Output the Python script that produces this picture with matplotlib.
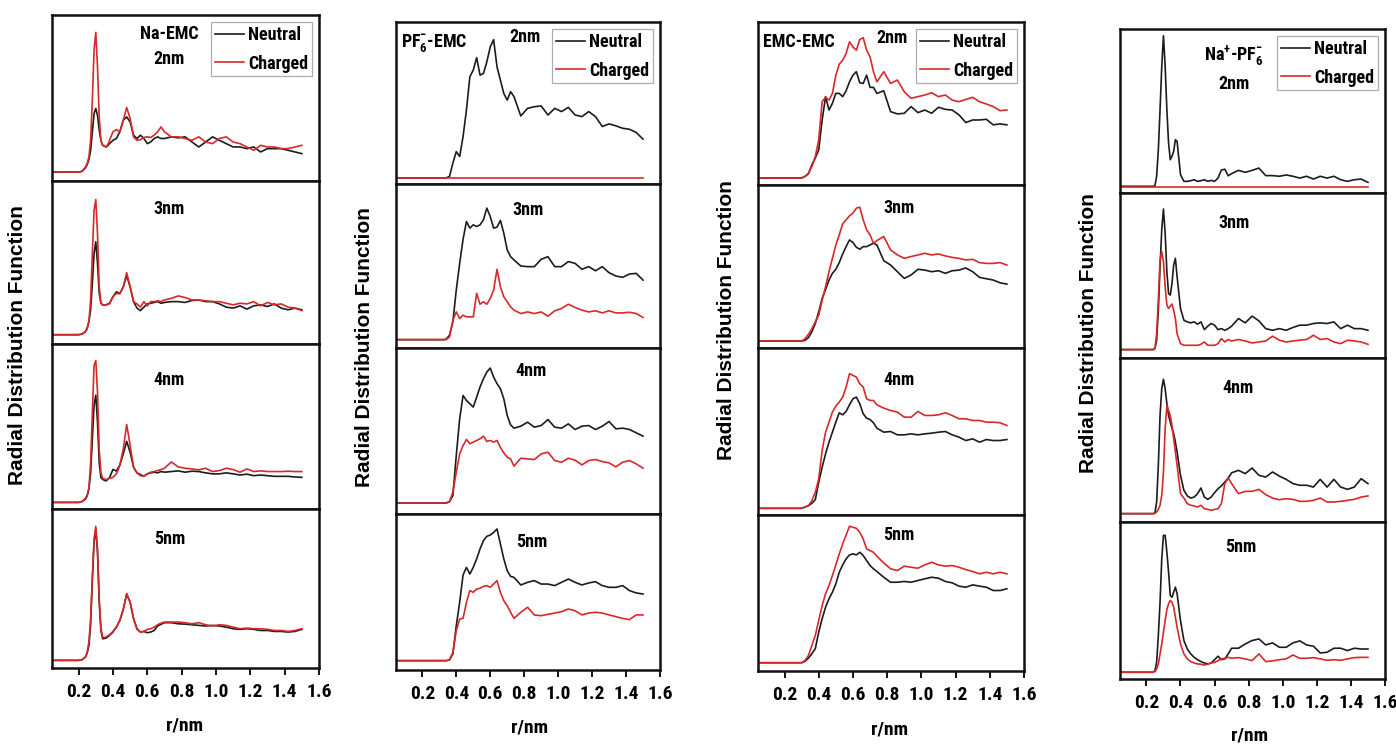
import matplotlib
matplotlib.use("Agg")
import matplotlib.pyplot as plt
from matplotlib import font_manager

# ---------------- data (arbitrary RDF units: % of panel height) -------------
r_a = [0.05, 0.20, 0.22, 0.24, 0.25, 0.26, 0.27, 0.28, 0.29,
       0.30, 0.31, 0.32, 0.33, 0.34, 0.35, 0.36, 0.37, 0.38,
       0.40, 0.42, 0.44, 0.46, 0.48, 0.50, 0.52, 0.54, 0.56, 0.58, 0.60, 0.62, 0.64, 0.66, 0.68, 0.70,
       0.74, 0.78, 0.82, 0.86, 0.90, 0.94, 0.98, 1.02, 1.06, 1.10,
       1.14, 1.18, 1.22, 1.26, 1.30, 1.34, 1.38, 1.42, 1.46, 1.50]

r_b = [0.05, 0.30, 0.32, 0.34, 0.36, 0.38,
       0.40, 0.42, 0.44, 0.46, 0.48, 0.50, 0.52, 0.54, 0.56, 0.58,
       0.60, 0.62, 0.64, 0.66, 0.68, 0.70, 0.72, 0.74,
       0.78, 0.82, 0.86, 0.90, 0.94, 0.98, 1.02, 1.06, 1.10, 1.14,
       1.18, 1.22, 1.26, 1.30, 1.34, 1.38, 1.42, 1.46, 1.50]

# Na-EMC
na_emc_2nm_neutral = [5.4, 5.4, 5.8, 8.0, 9.9, 12.9, 18.5, 29.6, 40.6,
                      43.7, 39.6, 30.6, 24.5, 21.5, 21.0, 20.5, 21.3, 22.5,
                      24.5, 25.6, 29.6, 36.6, 38.6, 35.6, 27.6, 25.6, 27.6, 25.6, 22.5, 23.5, 25.6, 26.6, 25.6, 25.6,
                      26.6, 26.0, 26.6, 23.5, 20.5, 23.5, 26.6, 24.5, 22.5, 20.5,
                      20.5, 19.5, 20.5, 17.5, 19.5, 19.5, 19.5, 18.5, 17.5, 16.5]
na_emc_2nm_charged = [5.4, 5.4, 5.8, 8.5, 10.5, 14.5, 24.5, 48.7, 78.9,
                      89.5, 68.8, 38.6, 24.5, 21.5, 21.0, 20.5, 22.0, 24.5,
                      29.6, 31.0, 29.6, 36.6, 44.3, 37.6, 26.6, 24.5, 24.9, 26.2, 26.6, 26.2, 27.6, 29.6, 32.6, 29.6,
                      26.6, 26.6, 25.6, 24.5, 26.6, 23.5, 22.5, 25.6, 26.6, 23.5,
                      22.5, 20.5, 18.5, 21.5, 20.5, 20.5, 19.5, 19.5, 20.5, 21.5]
na_emc_3nm_neutral = [5.7, 5.7, 6.1, 7.7, 9.8, 13.8, 21.0, 37.3, 55.6,
                      62.7, 49.5, 31.2, 25.1, 24.0, 24.0, 24.0, 24.5, 25.0,
                      29, 32, 31, 35, 42, 35, 26, 22, 20.5, 22.6, 24.6, 25, 25.5, 26, 25, 25.5,
                      26, 26, 25.5, 26.7, 27, 26, 26, 24.6, 22.6, 22,
                      23.4, 21.4, 23.4, 24, 23, 24.6, 22, 21, 22, 21]
na_emc_3nm_charged = [5.7, 5.7, 6.1, 7.5, 9.2, 13.8, 27, 55.6, 82,
                      88.6, 67.8, 35.2, 25, 24, 24, 24, 24.3, 24.6,
                      29, 31, 30.8, 35, 43.8, 35, 26, 24.6, 22.6, 26, 23.4, 26, 26, 26.5, 26, 27,
                      28, 29.5, 28.5, 27, 27, 26.5, 26, 26, 25, 24,
                      25, 24.6, 26, 23.4, 25.5, 24, 24.6, 22.6, 22, 20.5]
na_emc_4nm_neutral = [4, 4, 4.5, 6, 8, 12, 22, 42.5, 63,
                      69, 52.6, 28, 19, 18, 17.4, 17, 18, 19,
                      24, 23, 26.7, 33.4, 41, 34.4, 25.3, 21.9, 20.9, 19.8, 21.3, 21.9, 22.3, 21.9, 22.7, 22.3,
                      22.7, 23.1, 22.3, 22.9, 22.7, 21.9, 21.3, 21.3, 21.9, 21.3,
                      20.6, 21.1, 20.2, 20.6, 20.2, 19.8, 19.8, 19.8, 19.4, 19.2]
na_emc_4nm_charged = [4, 4, 4.5, 6.5, 8.5, 13, 28, 58.7, 87,
                      90, 71, 36, 22, 18.6, 18.2, 17.8, 18.2, 18.6,
                      19.2, 21.3, 26.3, 36.4, 51.2, 38.5, 25.3, 21.9, 20.2, 19.8, 21.3, 22.3, 22.7, 23.3, 23.9, 24.7,
                      28.5, 25.5, 24.7, 24.3, 23.7, 24.7, 22.7, 23.3, 24.7, 23.9,
                      22.3, 24.3, 22.7, 23.1, 22.7, 22.7, 22.7, 22.9, 22.7, 22.7]
na_emc_5nm_neutral = [4.8, 4.8, 5.2, 6.9, 9.5, 14.2, 27.8, 55, 79,
                      87.4, 72.8, 41.4, 23.6, 18.4, 18.6, 18.8, 19.6, 20.5,
                      22.6, 25.7, 29.9, 36.8, 46.6, 41.4, 31, 24.7, 22.6, 23, 22.2, 22.6, 23.6, 26.4, 27.5, 28.5,
                      28.5, 27.8, 27.6, 27.2, 26.8, 26.4, 26.8, 26.4, 25.7, 24.7,
                      24.3, 24.7, 24.3, 23.6, 23.6, 23, 23, 22.6, 23, 24.3]
na_emc_5nm_charged = [4.8, 4.8, 5.2, 6.9, 10, 16.3, 31, 58, 81,
                      89.1, 74.9, 43.5, 24.7, 19.5, 19.2, 19.5, 20.2, 20.9,
                      23, 25.7, 29.9, 36.8, 46.7, 41.4, 31, 24.3, 22.6, 23, 24.3, 24.7, 25.7, 27.2, 28.2, 28.9,
                      28.9, 28.9, 28.5, 27.8, 28.5, 27.2, 26.4, 27.2, 26.8, 25.7,
                      24.7, 25.1, 24.7, 24.7, 24.3, 23.6, 23.6, 23, 23.6, 24.7]

# PF6- - EMC
pf6_emc_2nm_neutral = [3.7, 3.7, 3.7, 3.7, 4.7, 12.9,
                       20, 17, 29.3, 45.7, 66.2, 70.3, 78, 67.2, 68.2, 75.4,
                       84.6, 89.1, 72.3, 64.1, 55.9, 51.8, 57, 53.9,
                       42, 46.7, 47.7, 48.2, 42.6, 46.7, 44.7, 47.3, 42.6, 41.6,
                       44.7, 41.6, 35.5, 37.1, 35.9, 34.4, 33.8, 31.8, 27.7]
pf6_emc_2nm_charged = [3.7, 3.7, 3.7, 3.7, 3.7, 3.7,
                       3.7, 3.7, 3.7, 3.7, 3.7, 3.7, 3.7, 3.7, 3.7, 3.7,
                       3.7, 3.7, 3.7, 3.7, 3.7, 3.7, 3.7, 3.7,
                       3.7, 3.7, 3.7, 3.7, 3.7, 3.7, 3.7, 3.7, 3.7, 3.7,
                       3.7, 3.7, 3.7, 3.7, 3.7, 3.7, 3.7, 3.7, 3.7]
pf6_emc_3nm_neutral = [5.1, 5.1, 5.1, 5.3, 7.8, 15.9,
                       35.3, 51.6, 66.3, 77.1, 73.1, 75.1, 74.1, 75.1, 78.2, 85.3,
                       80.2, 73.1, 73.7, 77.8, 70, 59.8, 55.7, 53.7,
                       50, 49.6, 49.6, 54.1, 55.7, 49.6, 49.6, 52.7, 51.6, 48,
                       49.6, 47.1, 49.6, 45.9, 43.9, 43.1, 45.1, 45.5, 41.4]
pf6_emc_3nm_charged = [5.1, 5.1, 5.1, 5.1, 6.7, 16.9,
                       22, 18, 20, 19, 19, 19, 33.3, 26.7, 28.2, 26.7,
                       30.2, 35.3, 48, 37.3, 31.2, 28.2, 25.1, 23.1,
                       21, 22, 21, 22, 19.4, 22.7, 24.1, 26.7, 24.7, 23.1,
                       22, 22.7, 21.4, 22.7, 21.4, 21.4, 21.8, 21, 18.6]
pf6_emc_4nm_neutral = [6.6, 6.6, 6.6, 6.6, 7.4, 11.1,
                       35.2, 57.3, 71.4, 68.4, 66.4, 64.4, 70.4, 76.5, 81.5, 85.5,
                       87.9, 82.5, 78.5, 75.5, 69.4, 59.4, 53.7, 51.7,
                       52.9, 55.3, 52.3, 53.3, 56.9, 52.3, 51.7, 54.3, 50.9, 52.9,
                       53.3, 50.9, 52.9, 55.7, 51.3, 51.7, 50.9, 48.9, 46.9]
pf6_emc_4nm_charged = [6.6, 6.6, 6.6, 6.6, 7.4, 13.1,
                       25.2, 36.2, 41.2, 44.9, 42.3, 43.3, 44.3, 45.3, 46.9, 43.7,
                       44.3, 43.3, 44.3, 40.2, 36.8, 34.2, 33.2, 28.8,
                       33.6, 33.2, 32.8, 36.2, 37.2, 32.2, 31.2, 33.6, 32.4, 29.6,
                       32.2, 32.8, 31.6, 30.8, 28.4, 31.2, 32.2, 30.2, 27.6]
pf6_emc_5nm_neutral = [6, 6, 6, 6, 6.4, 10.3,
                       28.4, 43.4, 60.9, 65.8, 61.5, 65.8, 71.2, 77.6, 82.9, 85.7,
                       86.5, 88.2, 90.4, 80.8, 71.2, 63.7, 60, 59.4,
                       54.5, 56.2, 57.3, 55.1, 55.1, 54.1, 56.2, 58.3, 56.2, 54.5,
                       55.8, 56.6, 54.1, 53, 53, 54.1, 50.9, 49.4, 48.7]
pf6_emc_5nm_charged = [6, 6, 6, 6, 6.4, 11.3,
                       25.2, 32.7, 33.1, 43.4, 50.9, 49.8, 51.9, 52.4, 53.6, 54.1,
                       53, 55.1, 57.3, 49.8, 44.4, 41.2, 37, 33.1,
                       37, 40.2, 35.3, 34.8, 35.7, 36.5, 37.4, 39.1, 38, 35.3,
                       36.5, 37, 36.5, 35.3, 34.2, 33.1, 32.3, 35.3, 35.3]

# EMC-EMC
emc_emc_2nm_neutral = [4.3, 4.3, 5.3, 6.9, 12.4, 16.5,
                       21.6, 39.9, 54.2, 46, 50.1, 56.2, 56.2, 54.2, 57.8, 63.3,
                       67.4, 69.5, 62.7, 62.3, 67.4, 59.9, 59.9, 56.2,
                       57.8, 45, 43.6, 44, 48.1, 44.4, 46, 44, 47.7, 46.4,
                       46, 43, 38.3, 39.9, 39.9, 40.3, 36.9, 37.5, 36.9]
emc_emc_2nm_charged = [4.3, 4.3, 5.3, 7.3, 11.4, 17.5,
                       27.7, 51.1, 53.8, 52.1, 56.2, 67.4, 74.1, 76.6, 80.7, 87.8,
                       84.7, 82.7, 89.2, 90.4, 82.7, 78.6, 69.5, 63.3,
                       69.5, 62.3, 64.4, 57.2, 53.2, 54.2, 55.2, 56.6, 54.2, 55.2,
                       52.1, 51.1, 52.5, 53.8, 51.1, 49.7, 48.1, 45.6, 46]
emc_emc_3nm_neutral = [4.3, 4.3, 4.7, 6.4, 9.9, 15,
                       22.2, 30.4, 35.9, 41.7, 45.8, 48.3, 52.4, 57.7, 62.2, 66.3,
                       64.7, 61.8, 60.6, 62.2, 62.2, 63.2, 64.3, 63.2,
                       53.6, 50.9, 46.8, 42.7, 44.8, 48.3, 47.8, 46.8, 47.4, 45.8,
                       47.4, 47.8, 49.1, 46.8, 43.3, 42.5, 41.7, 40, 39.2]
emc_emc_3nm_charged = [4.3, 4.3, 5.7, 8.4, 11.9, 16,
                       20.1, 29.4, 37.6, 46.8, 55, 63.2, 69.4, 76.2, 78.6, 81.1,
                       82.8, 85.8, 86.4, 78.6, 72.5, 69.4, 64.3, 65.9,
                       68.4, 60.2, 57.1, 55, 56.1, 57.1, 58.1, 57.1, 57.7, 56.5,
                       55.6, 55, 54, 54.4, 52.4, 51.9, 51.9, 52.4, 50.9]
emc_emc_4nm_neutral = [4, 4, 4.8, 5.6, 7, 9.2,
                       19.6, 28.6, 36.6, 43.6, 49.6, 55.6, 61.2, 60, 62, 66,
                       69.6, 70.6, 66.6, 60.6, 58, 57.2, 55.2, 52,
                       49.6, 50, 48, 48, 48.6, 48, 48.6, 49, 49.6, 50,
                       48, 46.6, 44.6, 45.6, 43.6, 45.2, 44.6, 44.6, 45.2]
emc_emc_4nm_charged = [4, 4, 4.8, 5.6, 8.6, 13.6,
                       21.6, 38.6, 49.6, 55.6, 61.6, 65.2, 67.6, 70.6, 76.6, 84.6,
                       83.6, 82.6, 78.6, 76.6, 69.6, 68.6, 68.6, 66,
                       64, 62.6, 61.6, 58.6, 58.6, 62, 59.6, 59.6, 60, 61.2,
                       59.6, 57.6, 57.6, 56.6, 56.6, 55.6, 55.6, 55.2, 53.6]
emc_emc_5nm_neutral = [5.3, 5.3, 6.2, 8.3, 11.1, 14.3,
                       24.9, 33.5, 40.9, 46.3, 50.5, 55.9, 63.3, 68, 71.9, 74.4,
                       75.1, 74.4, 76.1, 74, 70.8, 67.6, 65.5, 63.8,
                       60.1, 56.9, 56.9, 57.4, 56.9, 58, 59.1, 60.1, 59.5, 57.4,
                       56.5, 54.4, 53.7, 55.2, 54.4, 53.7, 51.6, 51.6, 52.7]
emc_emc_5nm_charged = [5.3, 5.3, 6.8, 10, 16.4, 22.8,
                       32.4, 42, 49.5, 54.8, 61.2, 68, 75.1, 81.4, 87.2, 92.8,
                       92.1, 91.5, 88.9, 84.6, 78.3, 77.2, 76.1, 73.6,
                       69.3, 65.5, 64.4, 67.2, 66.5, 65.9, 68, 69.7, 68, 67.2,
                       67.6, 66.5, 65, 63.8, 62.3, 63.3, 62.3, 63.3, 62.3]

# Na+ - PF6-
na_pf6_2nm_neutral = [4.1, 4.1, 4.1, 4.1, 4.5, 10.2, 26.4, 50.8, 77.2,
                      95.9, 77.2, 50.8, 30.5, 20.3, 22.4, 25.4, 32.5, 31.5,
                      11.2, 7.1, 7.1, 7.5, 8.1, 7.1, 7.5, 8.1, 7.1, 7.7, 7.1, 9.1, 14, 14.5, 10.5, 11.8,
                      13.8, 12.6, 13.8, 15.2, 10.6, 10.6, 10.2, 11, 10.2, 9.1,
                      10.2, 8.5, 10.2, 9.1, 10.2, 8.1, 7.1, 8.1, 8.5, 6.5]
na_pf6_2nm_charged = [3.7, 3.7, 3.7, 3.7, 3.7, 3.7, 3.7, 3.7, 3.7,
                      3.7, 3.7, 3.7, 3.7, 3.7, 3.7, 3.7, 3.7, 3.7,
                      3.7, 3.7, 3.7, 3.7, 3.7, 3.7, 3.7, 3.7, 3.7, 3.7, 3.7, 3.7, 3.7, 3.7, 3.7, 3.7,
                      3.7, 3.7, 3.7, 3.7, 3.7, 3.7, 3.7, 3.7, 3.7, 3.7,
                      3.7, 3.7, 3.7, 3.7, 3.7, 3.7, 3.7, 3.7, 3.7, 3.7]
na_pf6_3nm_neutral = [5.1, 5.1, 5.1, 5.1, 5.7, 10.8, 29, 55.4, 77.7,
                      90.3, 75.7, 52.3, 39.1, 38.1, 45.2, 56.4, 60.4, 49.3,
                      30, 22.9, 21.9, 21.3, 21.9, 20.5, 21.9, 17.2, 19.3, 20.9, 19.9, 17.2, 17.8, 16.8, 17.8, 19.3,
                      23.9, 21.3, 25.4, 22.5, 17.8, 16.8, 17.8, 16.8, 18.5, 19.9,
                      19.9, 20.9, 21.3, 20.9, 21.9, 17.8, 19.9, 17.8, 17.8, 16.8]
na_pf6_3nm_charged = [5.1, 5.1, 5.1, 5.1, 5.7, 14.8, 35.1, 59.4, 64.5,
                      58.4, 43.2, 32, 30, 31.4, 32.7, 29, 23.9, 14.8,
                      8.7, 7.7, 7.7, 7.7, 7.7, 7.7, 8.3, 9.7, 7.7, 7.7, 7.7, 8.7, 11.8, 9.7, 11.2, 10.3,
                      11.2, 10.3, 9.1, 9.7, 10.3, 13.2, 10.8, 9.7, 10.3, 10.8,
                      11.2, 13.8, 11.2, 11.8, 9.7, 8.7, 10.8, 10.3, 9.7, 8.3]
na_pf6_4nm_neutral = [5.1, 5.1, 5.1, 5.1, 5.5, 12.2, 34.6, 65, 81.3,
                      87, 81.3, 72.2, 65, 61, 56.9, 53.9, 48.8, 42.7,
                      28.5, 19.3, 15.9, 14.6, 15.2, 17.3, 20.7, 15.2, 13.8, 15.2, 17.9, 20.3, 22, 24.4, 26.8, 30,
                      31.5, 29.5, 32.9, 28.5, 27.4, 30.5, 28, 26, 23.4, 22.4,
                      22.4, 21.3, 26, 21.3, 26, 21.3, 19.9, 21.3, 26.4, 23.4]
na_pf6_4nm_charged = [5.1, 5.1, 5.1, 5.1, 5.3, 6.1, 7.7, 10.2, 16.3,
                      30.5, 56.9, 71.1, 68.1, 65, 58.9, 50.8, 42.7, 34.6,
                      17.3, 14.6, 11.2, 10.2, 9.8, 9.1, 10.2, 8.1, 7.7, 7.1, 7.7, 8.1, 11.2, 23.4, 26.8, 23.4,
                      17.3, 18.7, 18.7, 19.9, 16.7, 14.6, 13.6, 14.2, 13.8, 12.6,
                      12.6, 13.2, 14.6, 12.2, 12.2, 12.6, 13.2, 13.8, 15.2, 15.9]
na_pf6_5nm_neutral = [4.3, 4.3, 4.3, 4.3, 5.3, 10.6, 27.7, 48.9, 76.6,
                      91.5, 91.5, 80.9, 68.1, 53.2, 52.1, 55.3, 58.5, 54.3,
                      37.2, 24.5, 19.1, 16, 13.8, 12.3, 11.1, 10.2, 9.6, 10.2, 12.3, 14.5, 12.3, 12.8, 16, 19.6,
                      19.6, 22.3, 24.5, 25.5, 21.7, 23, 20.2, 20.2, 23, 24.3,
                      21.7, 20.9, 16.6, 17, 19.6, 19.6, 18.1, 19.6, 19.1, 19.1]
na_pf6_5nm_charged = [4.3, 4.3, 4.3, 4.3, 4.7, 6.4, 9.6, 16, 22.3,
                      29.8, 37.2, 44.3, 47.9, 50, 48.9, 45.7, 39.4, 33,
                      22.3, 16, 12.8, 11.1, 10.2, 9.6, 9.4, 8.9, 9.4, 10.2, 10.6, 11.7, 12.8, 13.2, 13.8, 13.2,
                      13.6, 12.8, 11.7, 16, 11.1, 11.5, 12.3, 12.8, 15.3, 13.2,
                      13.2, 13.6, 12.8, 11.9, 12.3, 11.9, 12.8, 13.6, 13.8, 13.8]

sizes = ["2nm", "3nm", "4nm", "5nm"]
legend_labels = ["Neutral", "Charged"]
xtick_values = [0.2, 0.4, 0.6, 0.8, 1.0, 1.2, 1.4, 1.6]
xtick_labels = ["0.2", "0.4", "0.6", "0.8", "1.0", "1.2", "1.4", "1.6"]

# ---------------- style ----------------
avail = {f.name for f in font_manager.fontManager.ttflist}
narrow = "Liberation Sans"
for cand in ["Liberation Sans Narrow", "Arial Narrow", "Roboto Condensed",
             "IBM Plex Sans Condensed", "Open Sans Condensed"]:
    if cand in avail:
        narrow = cand
        break
plt.rcParams["font.family"] = [narrow, "DejaVu Sans"]
plt.rcParams["font.weight"] = "bold"
plt.rcParams["mathtext.fontset"] = "custom"
plt.rcParams["mathtext.rm"] = narrow + ":bold"
plt.rcParams["mathtext.bf"] = narrow + ":bold"
plt.rcParams["mathtext.default"] = "bf"

BLACK = "#1c1c1c"
RED = "#d8282c"
FS = 13
W, H = 1396, 744
fig = plt.figure(figsize=(W / 100, H / 100), dpi=100)

columns = [
    dict(r=r_a, left=52, right=319, edges=[15, 181, 344, 509, 668],
         neutral=[na_emc_2nm_neutral, na_emc_3nm_neutral, na_emc_4nm_neutral, na_emc_5nm_neutral],
         charged=[na_emc_2nm_charged, na_emc_3nm_charged, na_emc_4nm_charged, na_emc_5nm_charged],
         title="Na-EMC\n2nm", title_pos=(0.44, 0.81), title_ha="center",
         size_pos=[None, (0.44, 0.83), (0.44, 0.78), (0.44, 0.81)],
         ylab=(18, 345), xlab=(185, 725)),
    dict(r=r_b, left=396, right=660, edges=[22, 184, 348, 514, 670],
         neutral=[pf6_emc_2nm_neutral, pf6_emc_3nm_neutral, pf6_emc_4nm_neutral, pf6_emc_5nm_neutral],
         charged=[pf6_emc_2nm_charged, pf6_emc_3nm_charged, pf6_emc_4nm_charged, pf6_emc_5nm_charged],
         title=r"PF$_6^{-}$-EMC", title_pos=(0.02, 0.87), title_ha="left",
         size_pos=[(0.49, 0.91), (0.50, 0.84), (0.51, 0.86), (0.515, 0.82)],
         ylab=(365, 347), xlab=(530, 727)),
    dict(r=r_b, left=758, right=1024, edges=[22, 185, 348, 515, 671],
         neutral=[emc_emc_2nm_neutral, emc_emc_3nm_neutral, emc_emc_4nm_neutral, emc_emc_5nm_neutral],
         charged=[emc_emc_2nm_charged, emc_emc_3nm_charged, emc_emc_4nm_charged, emc_emc_5nm_charged],
         title="EMC-EMC", title_pos=(0.02, 0.88), title_ha="left",
         size_pos=[(0.505, 0.90), (0.53, 0.86), (0.53, 0.81), (0.53, 0.87)],
         ylab=(727, 320), xlab=(890, 730)),
    dict(r=r_a, left=1120, right=1385, edges=[29, 193, 358, 522, 679],
         neutral=[na_pf6_2nm_neutral, na_pf6_3nm_neutral, na_pf6_4nm_neutral, na_pf6_5nm_neutral],
         charged=[na_pf6_2nm_charged, na_pf6_3nm_charged, na_pf6_4nm_charged, na_pf6_5nm_charged],
         title="Na$^{+}$-PF$_6^{-}$\n2nm", title_pos=(0.43, 0.76), title_ha="center",
         size_pos=[None, (0.43, 0.82), (0.445, 0.82), (0.457, 0.84)],
         ylab=(1088, 333), xlab=(1250, 735)),
]

for col in columns:
    l, rgt, e = col["left"], col["right"], col["edges"]
    for i in range(4):
        top, bot = e[i], e[i + 1]
        ax = fig.add_axes([l / W, 1 - bot / H, (rgt - l) / W, (bot - top) / H])
        ax.plot(col["r"], col["neutral"][i], color=BLACK, lw=1.2, label=legend_labels[0])
        ax.plot(col["r"], col["charged"][i], color=RED, lw=1.2, label=legend_labels[1])
        ax.set_xlim(0.045, 1.6)
        ax.set_ylim(0, 100)
        ax.set_yticks([])
        ax.set_xticks(xtick_values)
        ax.tick_params(axis="x", direction="out", length=5, width=1.3, top=False)
        if i == 3:
            ax.set_xticklabels(xtick_labels, fontsize=FS + 1, fontweight="bold")
            ax.tick_params(axis="x", pad=6)
        else:
            ax.set_xticklabels([])
        for s in ax.spines.values():
            s.set_linewidth(1.8)
            s.set_color("#111111")
        if i == 0:
            ax.text(*col["title_pos"], col["title"], transform=ax.transAxes, ha=col["title_ha"],
                    va="center", fontsize=FS, fontweight="bold", linespacing=1.5,
                    multialignment="center")
            if col["size_pos"][0] is not None:
                ax.text(*col["size_pos"][0], sizes[0], transform=ax.transAxes, ha="center",
                        va="center", fontsize=FS, fontweight="bold")
            leg = ax.legend(loc="upper right", fontsize=FS, frameon=True, fancybox=False,
                            handlelength=1.6, handletextpad=0.25, labelspacing=0.6,
                            borderpad=0.2, borderaxespad=0.4)
            leg.get_frame().set_edgecolor("#999999")
            leg.get_frame().set_linewidth(0.9)
        else:
            ax.text(*col["size_pos"][i], sizes[i], transform=ax.transAxes, ha="center",
                    va="center", fontsize=FS, fontweight="bold")
    fig.text(col["ylab"][0] / W, 1 - col["ylab"][1] / H, "Radial Distribution Function",
             rotation=90, ha="center", va="center", fontsize=15, fontweight="bold",
             family=["Liberation Sans", "DejaVu Sans"])
    fig.text(col["xlab"][0] / W, 1 - col["xlab"][1] / H, "r/nm", ha="center", va="center",
             fontsize=FS + 1, fontweight="bold")

fig.savefig("out.png", dpi=100, facecolor="white")
